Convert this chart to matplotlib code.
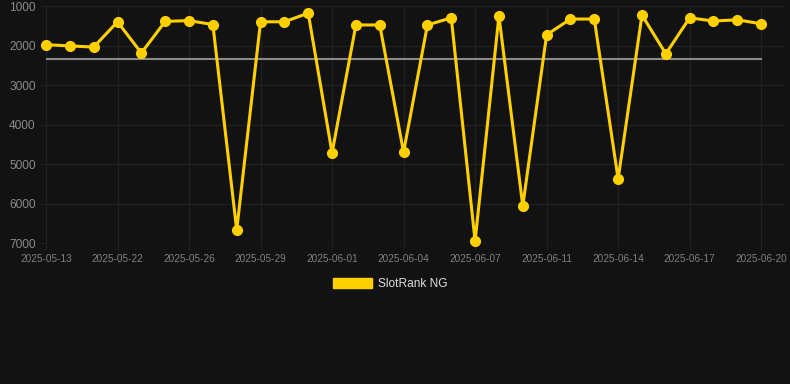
import matplotlib
matplotlib.use("Agg")
import matplotlib.pyplot as plt
from matplotlib.patches import Patch

# data (rank, lower is better)
dates = ["2025-05-13", "2025-05-16", "2025-05-19", "2025-05-22", "2025-05-23",
         "2025-05-24", "2025-05-26", "2025-05-27", "2025-05-28", "2025-05-29",
         "2025-05-30", "2025-05-31", "2025-06-01", "2025-06-02", "2025-06-03",
         "2025-06-04", "2025-06-05", "2025-06-06", "2025-06-07", "2025-06-08",
         "2025-06-10", "2025-06-11", "2025-06-12", "2025-06-13", "2025-06-14",
         "2025-06-15", "2025-06-16", "2025-06-17", "2025-06-18", "2025-06-19",
         "2025-06-20"]
rank = [1980, 2010, 2040, 1400, 2190, 1390, 1370, 1470, 6670, 1400,
        1400, 1180, 4720, 1480, 1480, 4700, 1480, 1300, 6950, 1250,
        6060, 1730, 1330, 1330, 5380, 1230, 2210, 1300, 1380, 1350,
        1450]
avg_rank = 2340

BG = "#121212"
GOLD = "#FFD000"
GRID = "#212121"

fig = plt.figure(figsize=(7.9, 3.84), dpi=100, facecolor=BG)
ax = fig.add_axes([46 / 790, 1 - 243 / 384, (785 - 46) / 790, (243 - 6) / 384])
ax.set_facecolor(BG)

x = list(range(len(dates)))
ax.plot([x[0], x[-1]], [avg_rank, avg_rank], color="#8a8a8a", linewidth=1.5, zorder=2)
ax.plot(x, rank, color=GOLD, linewidth=2.2, marker="o", markersize=7,
        solid_joinstyle="miter", clip_on=False, zorder=3)

ax.set_ylim(7000, 1000)
ax.set_xlim(0, 31)
ax.set_yticks([1000, 2000, 3000, 4000, 5000, 6000, 7000])
ax.set_xticks(x[::3])
ax.set_xticklabels(dates[::3])

ax.grid(True, color=GRID, linewidth=1)
for s in ax.spines.values():
    s.set_visible(False)
ax.tick_params(axis="x", colors=GRID, length=5, pad=3, labelsize=7.2, labelcolor="#808080")
ax.tick_params(axis="y", colors=GRID, length=4.5, pad=3, labelsize=8.6, labelcolor="#8a8a8a")
for lab in ax.get_xticklabels() + ax.get_yticklabels():
    lab.set_fontfamily("Liberation Sans")

leg = fig.legend(handles=[Patch(facecolor=GOLD, edgecolor=GOLD)], labels=["SlotRank NG"],
                 loc="center", bbox_to_anchor=(390 / 790, 1 - 284 / 384), frameon=False,
                 handlelength=3.3, handleheight=0.95, handletextpad=0.5,
                 prop={"family": "Liberation Sans", "size": 8.6})
for t in leg.get_texts():
    t.set_color("#dddddd")

fig.savefig("out.png", dpi=100, facecolor=BG)
